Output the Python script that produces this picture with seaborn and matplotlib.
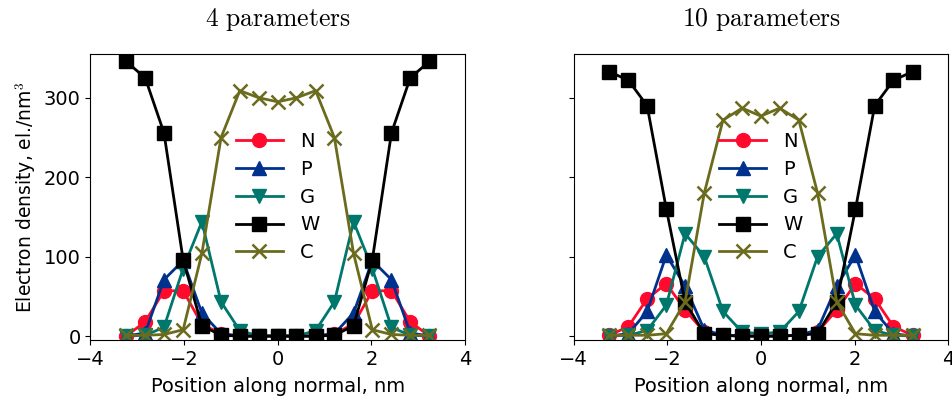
import matplotlib
matplotlib.use("Agg")
import pandas as pd
import seaborn as sns
from matplotlib import pyplot as plt

# bin centres along the membrane normal (nm)
position = [-3.24, -2.83, -2.43, -2.02, -1.62, -1.21, -0.81, -0.40, 0.0,
            0.40, 0.81, 1.21, 1.62, 2.02, 2.43, 2.83, 3.24]

# 4 parameters
n_4 = [0, 18, 57, 57, 15, 3, 0, 0, 0, 0, 0, 3, 15, 57, 57, 18, 0]
p_4 = [0, 4, 71, 95, 29, 3, 0, 0, 0, 0, 0, 3, 29, 95, 71, 4, 0]
g_4 = [0, 1, 11, 85, 144, 43, 7, 0, 0, 0, 7, 43, 144, 85, 11, 1, 0]
w_4 = [346, 325, 256, 96, 13, 1, 0, 0, 0, 0, 0, 1, 13, 96, 256, 325, 346]
c_4 = [1, 1, 2, 8, 104, 250, 309, 300, 295, 300, 309, 250, 104, 8, 2, 1, 1]

# 10 parameters
n_10 = [1, 12, 47, 66, 33, 5, 1, 0, 0, 0, 1, 5, 33, 66, 47, 12, 1]
p_10 = [0, 3, 31, 102, 63, 8, 1, 0, 0, 0, 1, 8, 63, 102, 31, 3, 0]
g_10 = [0, 1, 7, 39, 129, 100, 31, 5, 3, 5, 31, 100, 129, 39, 7, 1, 0]
w_10 = [333, 322, 290, 160, 43, 3, 1, 0, 0, 0, 1, 3, 43, 160, 290, 322, 333]
c_10 = [1, 1, 1, 3, 43, 180, 272, 287, 277, 287, 272, 180, 43, 3, 1, 1, 1]

titles = ["4 parameters", "10 parameters"]
series_names = ["N", "P", "G", "W", "C"]
colors = {"N": "#ff0a2d", "P": "#00318c", "G": "#00776c", "W": "#000000", "C": "#6b6b1e"}
markers = {"N": "o", "P": "^", "G": "v", "W": "s", "C": "x"}

panels = [
    dict(zip(series_names, [n_4, p_4, g_4, w_4, c_4])),
    dict(zip(series_names, [n_10, p_10, g_10, w_10, c_10])),
]

plt.rcParams["font.family"] = ["DejaVu Sans"]
plt.rcParams["font.size"] = 14
plt.rcParams["mathtext.fontset"] = "cm"

fig, axes = plt.subplots(1, 2, figsize=(9.52, 4.01), dpi=100, sharey=True)
fig.subplots_adjust(left=0.095, right=0.996, top=0.865, bottom=0.152, wspace=0.29)

for ax, title, panel in zip(axes, titles, panels):
    for name in series_names:
        df = pd.DataFrame({"x": position, "y": panel[name]})
        sns.lineplot(
            data=df, x="x", y="y", ax=ax,
            color=colors[name], marker=markers[name],
            markersize=10, markeredgecolor=colors[name],
            markeredgewidth=1.8 if name == "C" else 1.0,
            linewidth=2, label=name,
        )
    ax.set_xlim(-4, 4)
    ax.set_ylim(-5, 355)
    ax.set_xticks([-4, -2, 0, 2, 4])
    ax.set_yticks([0, 100, 200, 300])
    ax.set_xlabel("Position along normal, nm", labelpad=6)
    ax.set_ylabel("")
    ax.set_title("$\\mathrm{" + title.replace(" ", "\\ ") + "}$", fontsize=18.5, pad=20)
    ax.legend(loc="center", frameon=False, handlelength=2.4, labelspacing=0.45,
              fontsize=14, handletextpad=0.9)

axes[0].set_ylabel("Electron density, el./nm$^{\\mathsf{3}}$", fontsize=13.5)

fig.savefig("out.png", dpi=100)
